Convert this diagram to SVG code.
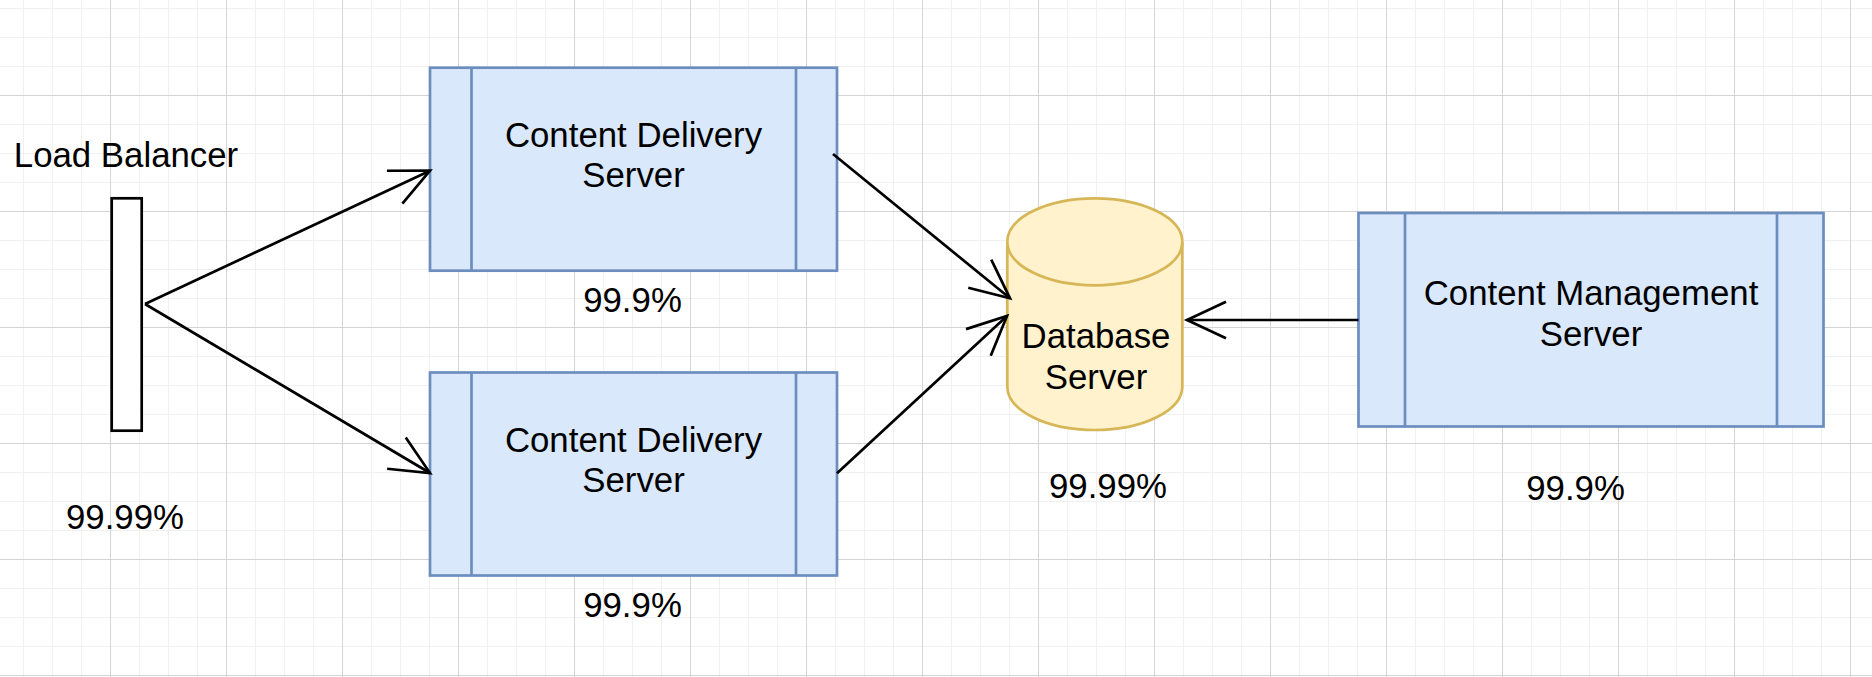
<svg xmlns="http://www.w3.org/2000/svg" width="1872" height="677" viewBox="0 0 1872 677">
<defs>
<pattern id="grid" x="110" y="95" width="116" height="116" patternUnits="userSpaceOnUse">
<rect x="0" y="0" width="116" height="116" fill="#ffffff"/>
<rect x="29" y="0" width="1" height="116" fill="#f0f0f0"/>
<rect x="58" y="0" width="1" height="116" fill="#f0f0f0"/>
<rect x="87" y="0" width="1" height="116" fill="#f0f0f0"/>
<rect x="0" y="29" width="116" height="1" fill="#f0f0f0"/>
<rect x="0" y="58" width="116" height="1" fill="#f0f0f0"/>
<rect x="0" y="87" width="116" height="1" fill="#f0f0f0"/>
<rect x="0" y="0" width="1" height="116" fill="#d4d4d4"/>
<rect x="0" y="0" width="116" height="1" fill="#d4d4d4"/>
</pattern>
<marker id="open" markerUnits="userSpaceOnUse" orient="auto" refX="0" refY="0" markerWidth="60" markerHeight="60" overflow="visible">
<path d="M -39 -18.2 L 0 0 L -39 18.2" fill="none" stroke="#000" stroke-width="2.7"/>
</marker>
</defs>
<style>
.t{font-family:"Liberation Sans",Arial,sans-serif;font-size:34.8px;fill:#000;text-anchor:middle}
.proc{fill:#dae8fc;stroke:#6c8ebf;stroke-width:2.7}
.db{fill:#fff2cc;stroke:#d6b656;stroke-width:2.7}
.edge{fill:none;stroke:#000;stroke-width:2.7;marker-end:url(#open)}
</style>
<rect x="0" y="0" width="1872" height="677" fill="url(#grid)"/>

<g id="load-balancer">
<rect x="111.7" y="198.3" width="30" height="232.4" fill="#ffffff" stroke="#000" stroke-width="2.7"/>
<text class="t" x="126" y="166.7">Load Balancer</text>
<text class="t" x="125" y="529.3">99.99%</text>
</g>

<g id="cds1">
<rect class="proc" x="430" y="67.7" width="407" height="203"/>
<line class="proc" x1="471.5" y1="67.7" x2="471.5" y2="270.7"/>
<line class="proc" x1="796" y1="67.7" x2="796" y2="270.7"/>
<text class="t" x="633.5" y="147.3">Content Delivery</text>
<text class="t" x="633.5" y="187.3">Server</text>
<text class="t" x="632.5" y="311.7">99.9%</text>
</g>

<g id="cds2">
<rect class="proc" x="430" y="372.5" width="407" height="203"/>
<line class="proc" x1="471.5" y1="372.5" x2="471.5" y2="575.5"/>
<line class="proc" x1="796" y1="372.5" x2="796" y2="575.5"/>
<text class="t" x="633.5" y="452">Content Delivery</text>
<text class="t" x="633.5" y="492">Server</text>
<text class="t" x="632.5" y="616.5">99.9%</text>
</g>

<g id="database">
<path class="db" d="M 1007.3 241.8 A 87.5 43.5 0 0 1 1182.3 241.8 L 1182.3 386.5 A 87.5 43.5 0 0 1 1007.3 386.5 Z"/>
<path class="db" fill="none" d="M 1007.3 241.8 A 87.5 43.5 0 0 0 1182.3 241.8"/>
<text class="t" x="1096" y="348.3">Database</text>
<text class="t" x="1096" y="389">Server</text>
<text class="t" x="1108" y="498.3">99.99%</text>
</g>

<g id="cms">
<rect class="proc" x="1358.5" y="213" width="465" height="213.5"/>
<line class="proc" x1="1405" y1="213" x2="1405" y2="426.5"/>
<line class="proc" x1="1777" y1="213" x2="1777" y2="426.5"/>
<text class="t" x="1591" y="305">Content Management</text>
<text class="t" x="1591" y="345.7">Server</text>
<text class="t" x="1575.6" y="500">99.9%</text>
</g>

<g id="connectors">
<line class="edge" x1="145" y1="304" x2="430" y2="170.7"/>
<line class="edge" x1="145" y1="304" x2="430" y2="473"/>
<line class="edge" x1="833" y1="154" x2="1010" y2="298.3"/>
<line class="edge" x1="837" y1="473.3" x2="1007" y2="316"/>
<line class="edge" x1="1358.5" y1="320" x2="1187" y2="320"/>
</g>
</svg>
